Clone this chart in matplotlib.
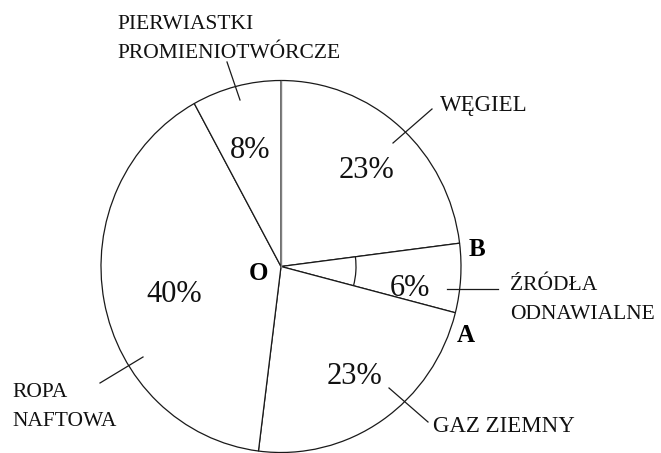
import numpy as np
import matplotlib
matplotlib.use("Agg")
import matplotlib.pyplot as plt
from matplotlib.patches import Arc

# data
sources = ["WĘGIEL", "ŹRÓDŁA\nODNAWIALNE", "GAZ ZIEMNY", "ROPA\nNAFTOWA",
           "PIERWIASTKI\nPROMIENIOTWÓRCZE"]
shares = [23, 6, 23, 40, 8]
pct_labels = ["23%", "6%", "23%", "40%", "8%"]

plt.rcParams['font.family'] = ['Liberation Serif', 'DejaVu Serif']

W, H = 661, 453
cx, cy, rx, ry = 281, 266.5, 180, 186   # pie centre / radii in pixels


def px(x, y):
    # pixel position (from top-left) -> data coords
    return (x - cx) / rx, (cy - y) / ry


fig = plt.figure(figsize=(W / 100, H / 100), dpi=100)
ax = fig.add_axes([0, 0, 1, 1])

wedges, _ = ax.pie(shares, startangle=90, counterclock=False, radius=1,
                   colors=["white"] * len(shares),
                   wedgeprops=dict(edgecolor="#1a1a1a", linewidth=0.9))
ax.set_aspect('auto')
ax.set_xlim(px(0, 0)[0], px(W, 0)[0])
ax.set_ylim(px(0, H)[1], px(0, 0)[1])
ax.axis('off')

# the starting radius (top) is drawn lighter in the original
ax.plot([0, 0], [0, 1], color="#808080", lw=1.0, zorder=3)

# angle arc between O-B and O-A (the 6% wedge)
bounds = 90 - 3.6 * np.cumsum(shares)
ax.add_patch(Arc((0, 0), 2 * 75 / rx, 2 * 75 / ry, theta1=bounds[1], theta2=bounds[0],
                 color="#1a1a1a", lw=0.9))

# percentage labels
pct_pos = [(367, 170), (410, 288), (354, 377), (174, 295), (250, 150)]
for t, (x, y) in zip(pct_labels, pct_pos):
    ax.text(*px(x, y), t, fontsize=22, ha='center', va='center', color="#111111")

# category labels (left aligned)
name_pos = [(440, 105), (510, 300), (433, 426), (12, 407), (117, 39)]
for t, (x, y) in zip(sources, name_pos):
    multi = "\n" in t
    ax.text(*px(x, y), t, fontsize=15.5 if multi else 16.5, ha='left', va='center',
            color="#111111", linespacing=1.65)

# leader lines
leaders = [((393, 143), (432, 109)), ((447, 289), (498, 289)), ((389, 388), (428, 422)),
           ((100, 383), (143, 357)), ((227, 62), (240, 100))]
for (x0, y0), (x1, y1) in leaders:
    a, b = px(x0, y0)
    c, d = px(x1, y1)
    ax.plot([a, c], [b, d], color="#1a1a1a", lw=0.9)

# points O, A, B
for t, (x, y) in [("O", (259, 273)), ("B", (477, 250)), ("A", (466, 335))]:
    ax.text(*px(x, y), t, fontsize=18, fontweight='bold', ha='center', va='center')

fig.savefig("out.png", dpi=100)
